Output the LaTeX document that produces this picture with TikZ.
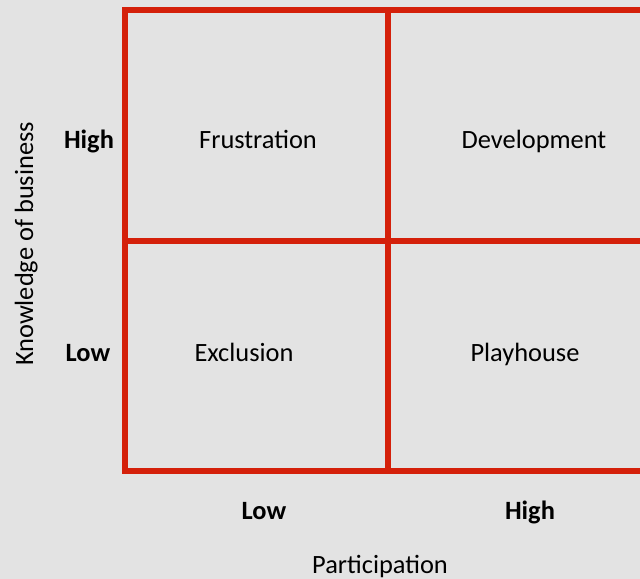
\documentclass[tikz,border=0pt]{standalone}
\usepackage{fontspec}
\setmainfont{Carlito}
\definecolor{bggray}{RGB}{227,227,227}
\definecolor{gridred}{RGB}{212,32,10}
\begin{document}
\begin{tikzpicture}[x=0.75pt,y=-0.75pt,
  txt/.style={anchor=base,inner sep=0pt,font=\fontsize{19.8}{23}\selectfont,text=black},
  gridline/.style={draw=gridred,line width=3.9pt},
  cell/.style={txt},
  level/.style={txt,font=\fontsize{19.8}{23}\selectfont\bfseries},
  axis/.style={txt}]
  % background and page frame
  \fill[bggray] (0,0) rectangle (640,579);
  \useasboundingbox (0,0) rectangle (640,579);
  \begin{scope}
    \clip (0,0) rectangle (640,579);
    % outer box of the matrix
    \draw[gridline] (660,10) -- (125,10) -- (125,471) -- (660,471);
    % dividing lines
    \draw[gridline] (388,10) -- (388,471);
    \draw[gridline] (125,241) -- (660,241);
  \end{scope}
  % quadrant labels
  \node[cell] (frus) at (258,148) {Frustration};
  \node[cell] (dev) at (534,148) {Development};
  \node[cell] (excl) at (244,361) {Exclusion};
  \node[cell] (play) at (525,361) {Playhouse};
  % level labels
  \node[level] (yhigh) at (89,148) {High};
  \node[level] (ylow) at (88,361) {Low};
  \node[level] (xlow) at (264,519) {Low};
  \node[level] (xhigh) at (530,519) {High};
  % axis titles
  \node[axis] (xtitle) at (380,573) {Participation};
  \node[axis,rotate=90] (ytitle) at (33,244) {Knowledge of business};
\end{tikzpicture}
\end{document}
